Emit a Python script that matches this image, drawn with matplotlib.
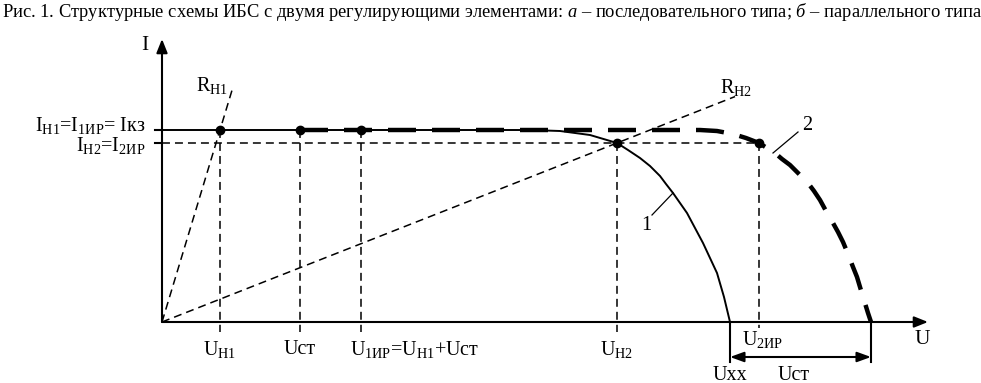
import numpy as np
import matplotlib
matplotlib.use("Agg")
import matplotlib.pyplot as plt

plt.rcParams["font.family"] = ["Liberation Serif", "DejaVu Serif"]
plt.rcParams["mathtext.fontset"] = "custom"
plt.rcParams["mathtext.rm"] = "Liberation Serif"
plt.rcParams["mathtext.it"] = "Liberation Serif:italic"
plt.rcParams["mathtext.bf"] = "Liberation Serif:bold"

# ---- характерные точки (условные единицы) ----
U_H1 = 58
U_ST = 138
U_1IR = 199
U_H2 = 455
U_XX = 568
U_2IR = 597
U_XX_ST = 709

I_KZ = 192
I_H2 = 179

# кривая 1 (сплошная)
curve1_u = [0, 368, 398, 428, 455, 466, 478, 488, 498, 504, 511, 518, 525,
            533, 541, 548, 555, 562, 568]
curve1_i = [192, 192, 191, 187, 179, 172, 164, 156, 146, 138, 129, 119, 109,
            94, 79, 64, 49, 25, 0]

# кривая 2 (жирная штриховая)
curve2_u = [138, 538, 555, 571, 584, 597, 613, 620, 628, 637, 646, 652, 658,
            664, 671, 676, 681, 686, 691, 695, 698, 702, 706, 709]
curve2_i = [192, 192, 191, 188, 184, 179, 169, 163, 157, 148, 139, 131, 122,
            111, 99, 90, 80, 68, 55, 45, 35, 22, 9, 0]

# точки на характеристиках
pts_u = [U_H1, U_ST, U_1IR, U_H2, U_2IR]
pts_i = [I_KZ, I_KZ, I_KZ, I_H2, I_H2]

title = ("Рис. 1. Структурные схемы ИБС с двумя регулирующими элементами: "
         r"$\mathit{а}$ – последовательного типа; $\mathit{б}$ – параллельного типа")

fs = 14.5
thin = (0, (5.2, 3.3))

fig = plt.figure(figsize=(9.81, 3.83), dpi=100)
ax = fig.add_axes([0, 0, 1, 1])
ax.set_xlim(-162, 819)
ax.set_ylim(-61, 322)
ax.axis("off")

# оси
arrow = dict(arrowstyle="-|>,head_length=0.55,head_width=0.22", lw=1.5,
             color="k", mutation_scale=15, shrinkA=0, shrinkB=0)
ax.annotate("", xy=(766, 0), xytext=(0, 0), arrowprops=arrow)
ax.annotate("", xy=(0, 283), xytext=(0, 0), arrowprops=arrow)
ax.plot([-7, 0], [I_KZ, I_KZ], color="k", lw=1.5)
ax.plot([-7, 0], [I_H2, I_H2], color="k", lw=1.5)

# вспомогательные штриховые линии
ax.plot([0, U_2IR], [I_H2, I_H2], color="k", lw=1.1, linestyle=thin)
for u in [U_H1, U_ST, U_1IR]:
    ax.plot([u, u], [I_KZ, -10], color="k", lw=1.1, linestyle=thin)
ax.plot([U_H2, U_H2], [I_H2, -10], color="k", lw=1.1, linestyle=thin)
ax.plot([U_2IR, U_2IR], [I_H2, -6], color="k", lw=1.1, linestyle=thin)

# нагрузочные прямые
ax.plot([0, 71], [0, 71 * I_KZ / U_H1], color="k", lw=1.1, linestyle=thin)
ax.plot([0, 573], [0, 573 * I_H2 / U_H2], color="k", lw=1.1, linestyle=thin)

# характеристики
ax.plot(curve1_u, curve1_i, color="k", lw=1.4)
ax.plot(curve2_u, curve2_i, color="k", lw=3.2, linestyle=(0, (6.3, 3.6)))
ax.plot(pts_u, pts_i, "o", color="k", markersize=6)

# Uхх и Uст
ax.plot([U_XX, U_XX], [0, -40], color="k", lw=1.5)
ax.plot([U_XX_ST, U_XX_ST], [0, -40], color="k", lw=1.5)
ax.annotate("", xy=(U_XX_ST, -35), xytext=(U_XX, -35),
            arrowprops=dict(arrowstyle="<|-|>,head_length=0.55,head_width=0.2",
                            lw=1.5, color="k", mutation_scale=15,
                            shrinkA=0, shrinkB=0))

# выноски
ax.plot([511, 490], [129, 107], color="k", lw=0.9)
ax.plot([611, 636], [169, 190], color="k", lw=0.9)
ax.text(484, 97, "1", fontsize=fs, ha="center", va="center")
ax.text(645, 197, "2", fontsize=fs, ha="center", va="center")

# подписи
ax.text(-17, 276, "I", fontsize=fs + 1, ha="center", va="center")
ax.text(760, -18, "U", fontsize=fs + 1, ha="center", va="center")
ax.text(34, 236, r"R$_{\mathrm{Н1}}$", fontsize=fs, ha="left", va="center")
ax.text(558, 234, r"R$_{\mathrm{Н2}}$", fontsize=fs, ha="left", va="center")
ax.text(-17, 197, r"I$_{\mathrm{Н1}}$=I$_{\mathrm{1ИР}}$= Iкз", fontsize=fs,
        ha="right", va="center")
ax.text(-17, 176, r"I$_{\mathrm{Н2}}$=I$_{\mathrm{2ИР}}$", fontsize=fs,
        ha="right", va="center")

ax.text(U_H1, -27, r"U$_{\mathrm{Н1}}$", fontsize=fs, ha="center", va="center")
ax.text(U_ST, -27, "Uст", fontsize=fs, ha="center", va="center")
ax.text(188, -27, r"U$_{\mathrm{1ИР}}$=U$_{\mathrm{Н1}}$+Uст", fontsize=fs,
        ha="left", va="center")
ax.text(U_H2, -27, r"U$_{\mathrm{Н2}}$", fontsize=fs, ha="center", va="center")
ax.text(580, -17, r"U$_{\mathrm{2ИР}}$", fontsize=fs, ha="left", va="center")
ax.text(551, -53, "Uхх", fontsize=fs, ha="left", va="center")
ax.text(616, -53, "Uст", fontsize=fs, ha="left", va="center")

fig.text(0.002, 1 - 12 / 383, title, fontsize=13.3, ha="left", va="center")

fig.savefig("out.png", dpi=100)
